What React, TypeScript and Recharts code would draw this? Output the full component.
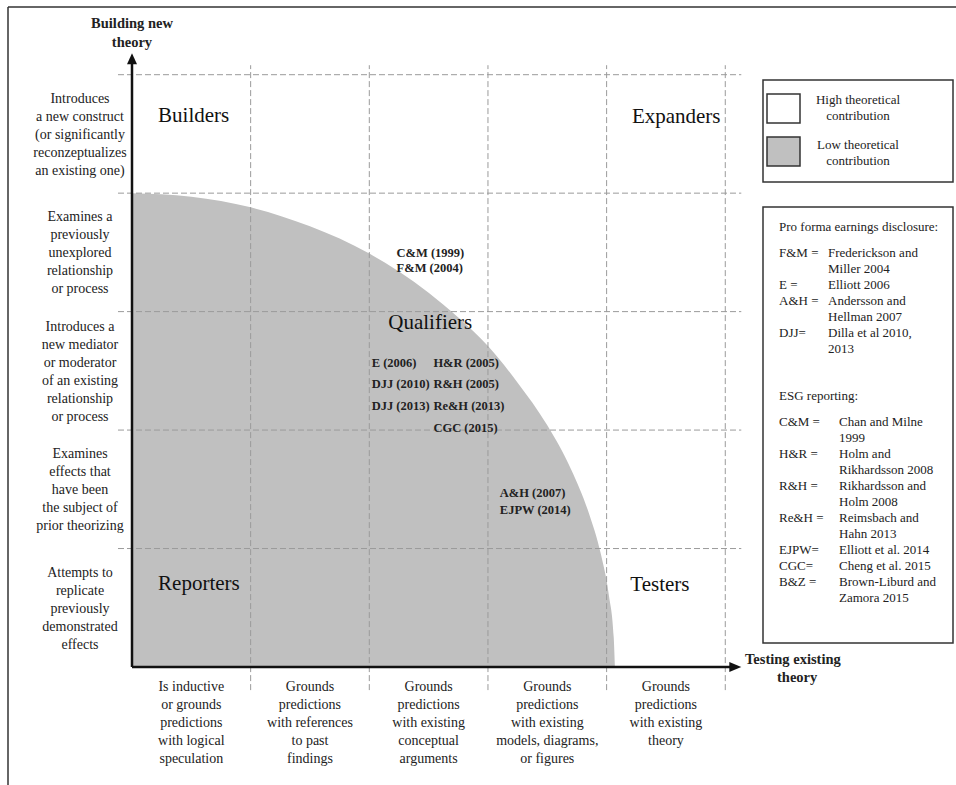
import { ComposedChart, Area, Scatter, XAxis, YAxis, ReferenceLine } from 'recharts';

// boundary of the grey "low theoretical contribution" zone
const frontier = [
    { x: 0, y: 4.0 },
    { x: 0.5, y: 3.97 },
    { x: 1.0, y: 3.88 },
    { x: 1.5, y: 3.72 },
    { x: 2.0, y: 3.49 },
    { x: 2.5, y: 3.16 },
    { x: 2.75, y: 2.95 },
    { x: 3.0, y: 2.71 },
    { x: 3.25, y: 2.4 },
    { x: 3.5, y: 2.04 },
    { x: 3.7, y: 1.67 },
    { x: 3.85, y: 1.3 },
    { x: 3.95, y: 0.96 },
    { x: 4.02, y: 0.6 },
    { x: 4.06, y: 0.25 },
    { x: 4.07, y: 0 }
];

const studies = [
    { name: 'C&M (1999)', x: 2.23, y: 3.5 },
    { name: 'F&M (2004)', x: 2.23, y: 3.37 },
    { name: 'E (2006)', x: 2.02, y: 2.57 },
    { name: 'H&R (2005)', x: 2.54, y: 2.57 },
    { name: 'DJJ (2010)', x: 2.02, y: 2.39 },
    { name: 'R&H (2005)', x: 2.54, y: 2.39 },
    { name: 'DJJ (2013)', x: 2.02, y: 2.21 },
    { name: 'Re&H (2013)', x: 2.54, y: 2.21 },
    { name: 'CGC (2015)', x: 2.54, y: 2.02 },
    { name: 'A&H (2007)', x: 3.1, y: 1.47 },
    { name: 'EJPW (2014)', x: 3.1, y: 1.33 }
];

const quadrants = [
    { name: 'Builders', x: 0.22, y: 4.6, anchor: 'start' },
    { name: 'Expanders', x: 4.96, y: 4.59, anchor: 'end' },
    { name: 'Qualifiers', x: 2.16, y: 2.85, anchor: 'start' },
    { name: 'Reporters', x: 0.22, y: 0.65, anchor: 'start' },
    { name: 'Testers', x: 4.2, y: 0.64, anchor: 'start' }
];

const arrowTips = [
    { x: 0, y: 5.18, dir: 'up' },
    { x: 5.135, y: 0, dir: 'right' }
];

const gridSteps = [1, 2, 3, 4, 5];
const bandTicks = [0.5, 1.5, 2.5, 3.5, 4.5];

const rowLabels = [
    ['Attempts to', 'replicate', 'previously', 'demonstrated', 'effects'],
    ['Examines', 'effects that', 'have been', 'the subject of', 'prior theorizing'],
    ['Introduces a', 'new mediator', 'or moderator', 'of an existing', 'relationship', 'or process'],
    ['Examines a', 'previously', 'unexplored', 'relationship', 'or process'],
    ['Introduces', 'a new construct', '(or significantly', 'reconzeptualizes', 'an existing one)']
];

const columnLabels = [
    ['Is inductive', 'or grounds', 'predictions', 'with logical', 'speculation'],
    ['Grounds', 'predictions', 'with references', 'to past', 'findings'],
    ['Grounds', 'predictions', 'with existing', 'conceptual', 'arguments'],
    ['Grounds', 'predictions', 'with existing', 'models, diagrams,', 'or figures'],
    ['Grounds', 'predictions', 'with existing', 'theory']
];

const legendKeys = [
    { lines: ['High theoretical', 'contribution'], fill: '#ffffff' },
    { lines: ['Low theoretical', 'contribution'], fill: '#c0c0c0' }
];

const proForma = [
    ['F&M =', 'Frederickson and'],
    ['', 'Miller 2004'],
    ['E =', 'Elliott 2006'],
    ['A&H =', 'Andersson and'],
    ['', 'Hellman 2007'],
    ['DJJ=', 'Dilla et al 2010,'],
    ['', '2013']
];

const esg = [
    ['C&M =', 'Chan and Milne'],
    ['', '1999'],
    ['H&R =', 'Holm and'],
    ['', 'Rikhardsson 2008'],
    ['R&H =', 'Rikhardsson and'],
    ['', 'Holm 2008'],
    ['Re&H =', 'Reimsbach and'],
    ['', 'Hahn 2013'],
    ['EJPW=', 'Elliott et al. 2014'],
    ['CGC=', 'Cheng et al. 2015'],
    ['B&Z =', 'Brown-Liburd and'],
    ['', 'Zamora 2015']
];

const FONT = '"Liberation Serif", "DejaVu Serif", serif';
const INK = '#222';
const DASH = '#9a9a9a';

const RowTick = (props: any) => {
    const lines = rowLabels[bandTicks.indexOf(props.payload.value)] || [];
    const top = props.y - ((lines.length - 1) * 18) / 2 + 5;
    return (
        <text x={props.x - 52} y={top} textAnchor='middle' fontFamily={FONT} fontSize={14} fill={INK}>
            {lines.map((l, i) => (
                <tspan key={i} x={props.x - 52} y={top + i * 18}>{l}</tspan>
            ))}
        </text>
    );
};

const ColTick = (props: any) => {
    const lines = columnLabels[bandTicks.indexOf(props.payload.value)] || [];
    return (
        <text x={props.x} y={props.y + 24} textAnchor='middle' fontFamily={FONT} fontSize={14} fill={INK}>
            {lines.map((l, i) => (
                <tspan key={i} x={props.x} y={props.y + 24 + i * 18}>{l}</tspan>
            ))}
        </text>
    );
};

const StudyLabel = (props: any) => (
    <text x={props.cx} y={props.cy} dy='0.35em' fontFamily={FONT} fontSize={12.5} fontWeight='bold' fill={INK}>
        {props.payload.name}
    </text>
);

const QuadrantLabel = (props: any) => (
    <text x={props.cx} y={props.cy} textAnchor={props.payload.anchor} fontFamily={FONT} fontSize={21} fill='#111'>
        {props.payload.name}
    </text>
);

const ArrowHead = (props: any) => {
    const { cx, cy } = props;
    const pts = props.payload.dir === 'up'
        ? `${cx},${cy} ${cx - 5},${cy + 11} ${cx + 5},${cy + 11}`
        : `${cx},${cy} ${cx - 12},${cy - 5} ${cx - 12},${cy + 5}`;
    return <polygon points={pts} fill='#111' />;
};

export default function App() {
    return (
        <div style={{ position: 'absolute', left: 0, top: 0, background: '#fff' }}>
            <ComposedChart
                width={956}
                height={785}
                data={frontier}
                margin={{ top: 51, right: 207, bottom: 18, left: 8 }}
            >
                {/* page frame */}
                <line x1={8} y1={7} x2={956} y2={7} stroke='#666' strokeWidth={2} />
                <line x1={8} y1={7} x2={8} y2={785} stroke='#333' strokeWidth={1.5} />

                <XAxis
                    type='number'
                    dataKey='x'
                    domain={[0, 5.2]}
                    ticks={bandTicks}
                    interval={0}
                    height={100}
                    axisLine={false}
                    tickLine={false}
                    tickSize={0}
                    tickMargin={0}
                    tick={ColTick}
                />
                <YAxis
                    type='number'
                    dataKey='y'
                    domain={[0, 5.2]}
                    ticks={bandTicks}
                    interval={0}
                    width={124}
                    axisLine={false}
                    tickLine={false}
                    tickSize={0}
                    tickMargin={0}
                    tick={RowTick}
                />

                <Area
                    type='monotone'
                    dataKey='y'
                    stroke='none'
                    fill='#c0c0c0'
                    fillOpacity={1}
                    isAnimationActive={false}
                />

                {gridSteps.map(s => (
                    <ReferenceLine
                        key={'h' + s}
                        segment={[{ x: -0.118, y: s }, { x: 5.135, y: s }]}
                        stroke={DASH}
                        strokeDasharray='6 3'
                        ifOverflow='visible'
                    />
                ))}
                {gridSteps.map(s => (
                    <ReferenceLine
                        key={'v' + s}
                        segment={[{ x: s, y: -0.195 }, { x: s, y: 5.08 }]}
                        stroke={DASH}
                        strokeDasharray='6 3'
                        ifOverflow='visible'
                    />
                ))}

                <ReferenceLine segment={[{ x: 0, y: 0 }, { x: 0, y: 5.1 }]} stroke='#111' strokeWidth={2.5} ifOverflow='visible' />
                <ReferenceLine segment={[{ x: 0, y: 0 }, { x: 5.05, y: 0 }]} stroke='#111' strokeWidth={2.5} ifOverflow='visible' />
                <Scatter data={arrowTips} shape={ArrowHead} isAnimationActive={false} />

                <Scatter data={quadrants} shape={QuadrantLabel} isAnimationActive={false} />
                <Scatter data={studies} shape={StudyLabel} isAnimationActive={false} />

                {/* axis titles */}
                <text x={132} y={28} textAnchor='middle' fontFamily={FONT} fontSize={14.5} fontWeight='bold' fill={INK}>Building new</text>
                <text x={132} y={47} textAnchor='middle' fontFamily={FONT} fontSize={14.5} fontWeight='bold' fill={INK}>theory</text>
                <text x={745} y={664} fontFamily={FONT} fontSize={14.5} fontWeight='bold' fill={INK}>Testing existing</text>
                <text x={777} y={682} fontFamily={FONT} fontSize={14.5} fontWeight='bold' fill={INK}>theory</text>

                {/* legend */}
                <rect x={763} y={80} width={190} height={102} fill='#fff' stroke='#333' strokeWidth={1.5} />
                {legendKeys.map((k, i) => (
                    <g key={i}>
                        <rect x={767} y={94 + i * 43} width={33} height={29} fill={k.fill} stroke='#333' strokeWidth={1.5} />
                        {k.lines.map((l, j) => (
                            <text key={j} x={858} y={104 + i * 45 + j * 16} textAnchor='middle' fontFamily={FONT} fontSize={13} fill={INK}>{l}</text>
                        ))}
                    </g>
                ))}

                <rect x={763} y={207} width={190} height={436} fill='#fff' stroke='#333' strokeWidth={1.5} />
                <text x={779} y={231} fontFamily={FONT} fontSize={13} fill={INK}>Pro forma earnings disclosure:</text>
                {proForma.map((r, i) => (
                    <g key={i}>
                        <text x={779} y={257 + i * 16} fontFamily={FONT} fontSize={13} fill={INK}>{r[0]}</text>
                        <text x={828} y={257 + i * 16} fontFamily={FONT} fontSize={13} fill={INK}>{r[1]}</text>
                    </g>
                ))}
                <text x={779} y={400} fontFamily={FONT} fontSize={13} fill={INK}>ESG reporting:</text>
                {esg.map((r, i) => (
                    <g key={i}>
                        <text x={779} y={426 + i * 16} fontFamily={FONT} fontSize={13} fill={INK}>{r[0]}</text>
                        <text x={839} y={426 + i * 16} fontFamily={FONT} fontSize={13} fill={INK}>{r[1]}</text>
                    </g>
                ))}
            </ComposedChart>
        </div>
    );
}
